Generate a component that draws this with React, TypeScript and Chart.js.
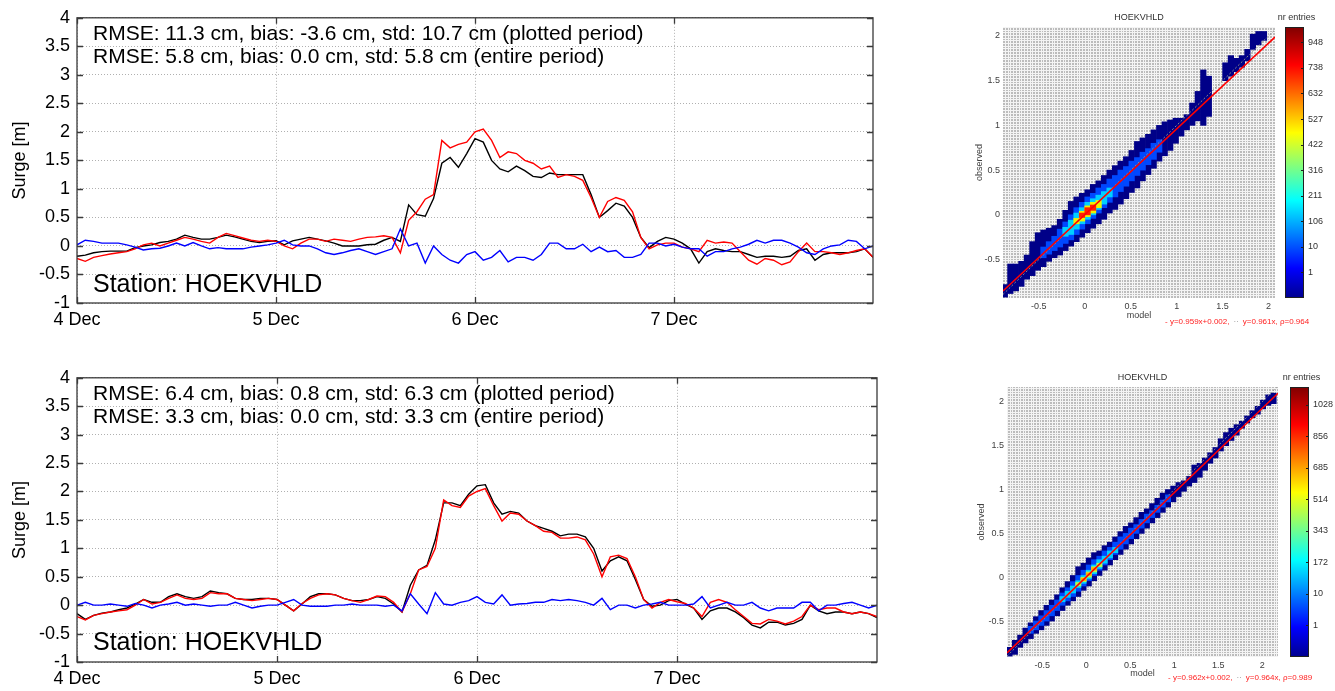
import React, { useEffect, useRef } from 'react';
import { Chart, registerables } from 'chart.js';

Chart.register(...registerables);

const FONT = "'Liberation Sans', Arial, Helvetica, sans-serif";

// ---------- time series (hourly, hours after 4 Dec 00:00) ----------
const hours: number[] = Array.from({ length: 97 }, (_, i) => i);
const dayTicks = [0, 24, 48, 72];
const dayLabels = ['4 Dec', '5 Dec', '6 Dec', '7 Dec'];
const surgeTicks = [-1, -0.5, 0, 0.5, 1, 1.5, 2, 2.5, 3, 3.5, 4];
const surgeLabels = ['-1', '-0.5', '0', '0.5', '1', '1.5', '2', '2.5', '3', '3.5', '4'];

const topObserved = [
  -0.22, -0.27, -0.2, -0.17, -0.14, -0.12, -0.1, -0.05, 0.02, 0.05,
  0.0, 0.05, 0.1, 0.15, 0.12, 0.08, 0.05, 0.15, 0.22, 0.18,
  0.14, 0.1, 0.08, 0.1, 0.08, 0.0, -0.05, 0.05, 0.12, 0.12,
  0.08, 0.12, 0.1, 0.08, 0.12, 0.15, 0.16, 0.18, 0.15, -0.12,
  0.45, 0.6, 0.82, 0.9, 1.85, 1.72, 1.78, 1.82, 2.0, 2.05,
  1.85, 1.55, 1.65, 1.62, 1.5, 1.45, 1.35, 1.4, 1.2, 1.25,
  1.22, 1.15, 0.85, 0.5, 0.78, 0.85, 0.8, 0.6, 0.15, -0.05,
  0.02, 0.05, 0.05, -0.02, -0.05, -0.1, 0.1, 0.05, 0.07, 0.05,
  -0.1, -0.25, -0.32, -0.22, -0.25, -0.33, -0.28, -0.1, 0.05, -0.1,
  -0.1, -0.12, -0.15, -0.12, -0.08, -0.05, -0.2,
];
const topModel = [
  -0.18, -0.16, -0.12, -0.1, -0.09, -0.09, -0.09, -0.03, 0.0, 0.02,
  0.06, 0.08, 0.12, 0.19, 0.15, 0.12, 0.12, 0.15, 0.19, 0.16,
  0.12, 0.08, 0.06, 0.08, 0.09, 0.02, 0.09, 0.12, 0.15, 0.12,
  0.09, 0.05, 0.0, 0.0, 0.0, 0.02, 0.03, 0.1, 0.15, 0.08,
  0.72, 0.55, 0.52, 0.83, 1.45, 1.55, 1.38, 1.62, 1.88, 1.82,
  1.5, 1.35, 1.3, 1.4, 1.32, 1.22, 1.2, 1.28, 1.25, 1.25,
  1.25, 1.25, 0.9, 0.5, 0.62, 0.75, 0.7, 0.5, 0.15, -0.03,
  0.08, 0.15, 0.12, 0.05, -0.05, -0.3, -0.1, -0.05, -0.08, -0.1,
  -0.1, -0.15, -0.2, -0.18, -0.18, -0.2, -0.18, -0.08, -0.05, -0.25,
  -0.15, -0.12, -0.12, -0.12, -0.1, -0.05, -0.2,
];
const topDiff = [
  0.02, 0.1, 0.08, 0.05, 0.05, 0.05, 0.02, -0.02, -0.07, -0.05,
  -0.04, 0.0, 0.05, 0.0, 0.06, 0.0, -0.05, -0.03, -0.05, -0.05,
  -0.05, -0.02, 0.0, 0.02, 0.05, 0.1, 0.02, 0.0, 0.0, -0.05,
  -0.12, -0.15, -0.12, -0.08, -0.05, -0.1, -0.15, -0.1, -0.05, 0.3,
  0.0, 0.05, -0.3, 0.0, -0.15, -0.25, -0.3, -0.15, -0.1, -0.25,
  -0.2, -0.08, -0.28, -0.2, -0.2, -0.25, -0.15, 0.05, 0.05, -0.05,
  -0.05, 0.03, -0.1, -0.02, -0.1, -0.08, -0.2, -0.2, -0.15, 0.05,
  0.05, 0.0, 0.03, -0.02, -0.05, -0.05, -0.18, -0.1, -0.1, -0.05,
  -0.02, 0.03, 0.1, 0.05, 0.1, 0.1, 0.05, -0.02, -0.12, -0.15,
  -0.05, 0.0, 0.02, 0.1, 0.08, -0.05, 0.0,
];
const botObserved = [
  -0.2, -0.26, -0.18, -0.15, -0.12, -0.1, -0.08, 0.0, 0.1, 0.02,
  0.05, 0.12, 0.18, 0.12, 0.1, 0.12, 0.22, 0.2, 0.2, 0.12,
  0.1, 0.08, 0.1, 0.12, 0.1, 0.0, -0.1, 0.03, 0.12, 0.18,
  0.2, 0.18, 0.12, 0.08, 0.05, 0.1, 0.16, 0.15, 0.05, -0.12,
  0.2, 0.62, 0.68, 1.0, 1.85, 1.75, 1.72, 1.92, 2.0, 2.05,
  1.75, 1.48, 1.62, 1.6, 1.48, 1.4, 1.3, 1.28, 1.18, 1.18,
  1.2, 1.15, 0.9, 0.5, 0.85, 0.88, 0.82, 0.5, 0.1, -0.05,
  0.05, 0.1, 0.06, 0.03, -0.05, -0.2, 0.05, 0.1, 0.05, -0.08,
  -0.2, -0.32, -0.33, -0.25, -0.28, -0.33, -0.28, -0.2, 0.0, -0.08,
  -0.05, -0.05, -0.12, -0.15, -0.12, -0.15, -0.2,
];
const botModel = [
  -0.15, -0.25, -0.18, -0.14, -0.12, -0.08, -0.05, 0.02, 0.1, 0.05,
  0.05, 0.15, 0.2, 0.15, 0.12, 0.15, 0.25, 0.22, 0.2, 0.12,
  0.1, 0.1, 0.12, 0.12, 0.1, 0.0, -0.1, 0.02, 0.15, 0.2,
  0.2, 0.18, 0.12, 0.08, 0.08, 0.1, 0.15, 0.12, 0.02, -0.12,
  0.35, 0.62, 0.7, 1.15, 1.8, 1.8, 1.75, 1.95, 2.1, 2.12,
  1.8, 1.6, 1.65, 1.62, 1.48, 1.4, 1.35, 1.3, 1.22, 1.25,
  1.25, 1.2, 1.0, 0.6, 0.78, 0.85, 0.78, 0.45, 0.1, -0.02,
  0.0, 0.08, 0.1, 0.02, -0.05, -0.25, -0.1, -0.05, -0.05, -0.12,
  -0.22, -0.35, -0.4, -0.3, -0.3, -0.35, -0.32, -0.25, 0.0, -0.1,
  -0.15, -0.12, -0.12, -0.15, -0.12, -0.15, -0.22,
];
const botDiff = [
  0.0, 0.05, 0.0, 0.0, 0.02, 0.0, -0.02, 0.03, 0.0, -0.05,
  0.0, 0.02, 0.05, 0.0, 0.02, 0.0, -0.02, 0.0, 0.0, 0.05,
  0.0, -0.05, -0.02, 0.0, 0.0, 0.05, 0.1, 0.0, -0.02, -0.02,
  -0.02, 0.0, 0.0, 0.02, 0.0, 0.0, 0.0, -0.02, 0.0, -0.1,
  0.2, 0.02, -0.15, 0.22, 0.02, 0.0, 0.05, 0.08, 0.15, 0.05,
  0.02, 0.18, 0.0, 0.02, 0.03, 0.05, 0.05, 0.1, 0.08, 0.1,
  0.08, 0.05, 0.0, 0.12, -0.08, 0.0, 0.0, -0.05, 0.0, 0.02,
  0.05, 0.0, 0.0, 0.0, 0.02, 0.15, -0.05, 0.0, 0.05, 0.0,
  0.0, 0.05, -0.05, -0.1, -0.05, -0.05, -0.05, 0.05, 0.05, -0.1,
  0.0, 0.0, 0.03, 0.05, 0.0, -0.05, 0.0,
];

const topStats = [
  'RMSE: 11.3 cm, bias: -3.6 cm, std: 10.7 cm (plotted period)',
  'RMSE: 5.8 cm, bias: 0.0 cm, std: 5.8 cm (entire period)',
];
const botStats = [
  'RMSE: 6.4 cm, bias: 0.8 cm, std: 6.3 cm (plotted period)',
  'RMSE: 3.3 cm, bias: 0.0 cm, std: 3.3 cm (entire period)',
];
const stationLabel = 'Station: HOEKVHLD';

// ---------- density (2D histogram) panels ----------
const densityTicks = [-0.5, 0, 0.5, 1, 1.5, 2];
const densityLabels = ['-0.5', '0', '0.5', '1', '1.5', '2'];
const densityTitle = 'HOEKVHLD';

// top panel bands (column centre = model, [lo, hi] = observed range)
const topB1X = [-0.87, -0.81, -0.75, -0.69, -0.63, -0.57, -0.51, -0.45, -0.39, -0.33, -0.27, -0.21, -0.15, -0.09, -0.03, 0.03, 0.09, 0.15, 0.21, 0.27, 0.33, 0.39, 0.45, 0.51, 0.57, 0.63, 0.69, 0.75, 0.81, 0.87, 0.93, 0.99, 1.05, 1.11, 1.17, 1.23, 1.29, 1.35, 1.53, 1.59, 1.65, 1.71, 1.77, 1.83, 1.89, 1.95];
const topB1Lo = [-0.92, -0.88, -0.85, -0.8, -0.72, -0.68, -0.62, -0.58, -0.52, -0.48, -0.45, -0.4, -0.35, -0.3, -0.25, -0.2, -0.15, -0.1, -0.05, 0.02, 0.06, 0.12, 0.18, 0.25, 0.3, 0.38, 0.45, 0.52, 0.6, 0.66, 0.72, 0.8, 0.88, 0.95, 1.0, 1.05, 1.0, 1.1, 1.5, 1.55, 1.6, 1.65, 1.72, 1.85, 1.9, 1.95];
const topB1Hi = [-0.78, -0.55, -0.55, -0.52, -0.45, -0.3, -0.2, -0.17, -0.15, -0.12, -0.05, 0.05, 0.15, 0.2, 0.24, 0.28, 0.34, 0.38, 0.44, 0.5, 0.55, 0.6, 0.65, 0.72, 0.82, 0.86, 0.9, 0.95, 1.0, 1.04, 1.06, 1.08, 1.08, 1.12, 1.25, 1.38, 1.62, 1.55, 1.7, 1.78, 1.75, 1.78, 1.85, 2.02, 2.05, 2.05];
const topB2X = [-0.45, -0.39, -0.33, -0.27, -0.21, -0.15, -0.09, -0.03, 0.03, 0.09, 0.15, 0.21, 0.27, 0.33, 0.39, 0.45, 0.51, 0.57, 0.63, 0.69, 0.75, 0.81];
const topB2Lo = [-0.48, -0.44, -0.4, -0.36, -0.32, -0.28, -0.22, -0.16, -0.1, -0.04, 0.02, 0.08, 0.14, 0.2, 0.26, 0.32, 0.38, 0.44, 0.5, 0.56, 0.62, 0.7];
const topB2Hi = [-0.36, -0.3, -0.24, -0.16, -0.08, 0.0, 0.08, 0.14, 0.2, 0.24, 0.3, 0.34, 0.4, 0.44, 0.5, 0.54, 0.6, 0.64, 0.7, 0.74, 0.8, 0.84];
const topB3X = [-0.21, -0.15, -0.09, -0.03, 0.03, 0.09, 0.15, 0.21, 0.27];
const topB3Lo = [-0.24, -0.22, -0.16, -0.1, -0.05, 0.0, 0.06, 0.12, 0.2];
const topB3Hi = [-0.14, -0.06, 0.02, 0.08, 0.14, 0.18, 0.22, 0.26, 0.3];
const topB4X = [-0.09, -0.03, 0.03, 0.09, 0.15];
const topB4Lo = [-0.1, -0.07, -0.02, 0.02, 0.08];
const topB4Hi = [-0.04, 0.04, 0.1, 0.14, 0.16];
const topB5X = [-0.03, 0.03, 0.09];
const topB5Lo = [-0.03, 0.0, 0.05];
const topB5Hi = [0.02, 0.08, 0.11];

// bottom panel bands
const botB1X = [-0.87, -0.81, -0.75, -0.69, -0.63, -0.57, -0.51, -0.45, -0.39, -0.33, -0.27, -0.21, -0.15, -0.09, -0.03, 0.03, 0.09, 0.15, 0.21, 0.27, 0.33, 0.39, 0.45, 0.51, 0.57, 0.63, 0.69, 0.75, 0.81, 0.87, 0.93, 0.99, 1.05, 1.11, 1.17, 1.23, 1.29, 1.35, 1.41, 1.47, 1.53, 1.59, 1.65, 1.71, 1.77, 1.83, 1.89, 1.95, 2.01, 2.07, 2.13];
const botB1Lo = [-0.9, -0.88, -0.8, -0.75, -0.7, -0.64, -0.6, -0.55, -0.5, -0.44, -0.38, -0.32, -0.27, -0.22, -0.15, -0.1, -0.04, 0.02, 0.08, 0.14, 0.2, 0.26, 0.32, 0.38, 0.44, 0.5, 0.56, 0.62, 0.68, 0.74, 0.8, 0.86, 0.92, 0.98, 1.04, 1.08, 1.14, 1.22, 1.3, 1.36, 1.44, 1.5, 1.56, 1.62, 1.7, 1.76, 1.82, 1.86, 1.92, 1.96, 1.98];
const botB1Hi = [-0.8, -0.72, -0.66, -0.58, -0.52, -0.45, -0.38, -0.32, -0.26, -0.2, -0.12, -0.05, 0.02, 0.12, 0.16, 0.22, 0.28, 0.3, 0.36, 0.4, 0.46, 0.52, 0.58, 0.62, 0.68, 0.74, 0.78, 0.84, 0.9, 0.96, 1.0, 1.04, 1.08, 1.1, 1.15, 1.28, 1.3, 1.36, 1.42, 1.48, 1.58, 1.65, 1.7, 1.74, 1.78, 1.84, 1.9, 1.95, 2.02, 2.08, 2.1];
const botB2X = [-0.63, -0.57, -0.51, -0.45, -0.39, -0.33, -0.27, -0.21, -0.15, -0.09, -0.03, 0.03, 0.09, 0.15, 0.21, 0.27, 0.33, 0.39, 0.45, 0.51, 0.57, 0.63, 0.69, 0.75, 0.81, 0.87, 0.93];
const botB2Lo = [-0.64, -0.6, -0.55, -0.5, -0.44, -0.38, -0.32, -0.27, -0.22, -0.16, -0.1, -0.04, 0.02, 0.08, 0.14, 0.2, 0.26, 0.32, 0.38, 0.44, 0.5, 0.56, 0.62, 0.68, 0.74, 0.8, 0.86];
const botB2Hi = [-0.56, -0.5, -0.44, -0.38, -0.32, -0.26, -0.18, -0.12, -0.05, 0.02, 0.08, 0.14, 0.2, 0.24, 0.3, 0.34, 0.4, 0.46, 0.5, 0.56, 0.6, 0.66, 0.72, 0.76, 0.82, 0.88, 0.94];
const botB3X = [-0.27, -0.21, -0.15, -0.09, -0.03, 0.03, 0.09, 0.15, 0.21, 0.27, 0.33];
const botB3Lo = [-0.28, -0.23, -0.18, -0.12, -0.07, -0.02, 0.04, 0.1, 0.16, 0.22, 0.28];
const botB3Hi = [-0.22, -0.16, -0.1, -0.04, 0.02, 0.08, 0.14, 0.2, 0.24, 0.3, 0.34];
const botB4X = [-0.09, -0.03, 0.03, 0.09, 0.15];
const botB4Lo = [-0.1, -0.05, 0.0, 0.06, 0.12];
const botB4Hi = [-0.06, 0.0, 0.06, 0.12, 0.16];
const botB5X = [-0.03, 0.03, 0.09];
const botB5Lo = [-0.04, 0.02, 0.08];
const botB5Hi = [-0.01, 0.05, 0.11];

// regression / reference lines
const topFitX = [-0.89, 2.07];
const topFitY = [-0.852, 1.987];
const topOneX = [-0.89, 2.07];
const topOneY = [-0.89, 2.07];
const botFitX = [-0.9, 2.18];
const botFitY = [-0.864, 2.099];
const botOneX = [-0.9, 2.18];
const botOneY = [-0.9, 2.18];

const topFitText = ['- y=0.959x+0.002,', '\u00B7\u00B7', 'y=0.961x, \u03C1=0.964'];
const botFitText = ['- y=0.962x+0.002,', '\u00B7\u00B7', 'y=0.964x, \u03C1=0.989'];

// colour bars
const topCbTicks = [1, 2, 3, 4, 5, 6, 7, 8, 9, 10];
const topCbLabels = ['1', '10', '106', '211', '316', '422', '527', '632', '738', '948'];
const botCbTicks = [1, 2, 3, 4, 5, 6, 7, 8];
const botCbLabels = ['1', '10', '172', '343', '514', '685', '856', '1028'];
const jetStops = [0, 0.11, 0.36, 0.61, 0.86, 1];
const jetColors = ['#00008f', '#0000ff', '#00ffff', '#ffff00', '#ff0000', '#800000'];

// ---------------------------------------------------------------
function surgeChart(canvas: HTMLCanvasElement, o: any) {
  const pts = (arr: number[]) => hours.map((h, i) => ({ x: h, y: arr[i] }));
  const box = {
    id: 'boxAndText',
    afterDraw(chart: any) {
      const { ctx, chartArea: a, scales } = chart;
      ctx.save();
      ctx.strokeStyle = '#3a3a3a';
      ctx.lineWidth = 1.3;
      ctx.setLineDash([]);
      ctx.strokeRect(a.left, a.top, a.right - a.left, a.bottom - a.top);
      ctx.beginPath();
      surgeTicks.forEach((v) => {
        const y = Math.round(scales.y.getPixelForValue(v)) + 0.5;
        ctx.moveTo(a.left, y); ctx.lineTo(a.left + 6, y);
        ctx.moveTo(a.right, y); ctx.lineTo(a.right - 6, y);
      });
      dayTicks.forEach((v) => {
        const x = Math.round(scales.x.getPixelForValue(v)) + 0.5;
        ctx.moveTo(x, a.bottom); ctx.lineTo(x, a.bottom - 6);
        ctx.moveTo(x, a.top); ctx.lineTo(x, a.top + 6);
      });
      ctx.stroke();
      ctx.fillStyle = '#000';
      ctx.textAlign = 'left';
      ctx.textBaseline = 'alphabetic';
      ctx.font = `21px ${FONT}`;
      o.stats.forEach((t: string, i: number) => ctx.fillText(t, a.left + 16, o.statY[i]));
      ctx.font = `25px ${FONT}`;
      ctx.fillText(stationLabel, a.left + 16, o.stationY);
      ctx.restore();
    },
  };
  const line = (data: number[], color: string) => ({
    data: pts(data),
    borderColor: color,
    backgroundColor: color,
    borderWidth: 1.4,
    pointRadius: 0,
    tension: 0,
    fill: false,
  });
  return new Chart(canvas, {
    type: 'line',
    data: { datasets: [line(o.diff, '#0000ff'), line(o.obs, '#ff0000'), line(o.mod, '#000000')] },
    options: {
      animation: false,
      responsive: false,
      maintainAspectRatio: false,
      layout: { padding: { top: o.padTop, right: o.padRight, left: 0, bottom: 0 } },
      plugins: { legend: { display: false }, tooltip: { enabled: false } },
      scales: {
        x: {
          type: 'linear',
          min: 0,
          max: 96,
          afterBuildTicks: (s: any) => { s.ticks = dayTicks.map((v) => ({ value: v })); },
          ticks: {
            callback: (v: any) => dayLabels[dayTicks.indexOf(v)] ?? '',
            color: '#000',
            font: { family: FONT, size: 18 },
            padding: 6,
            maxRotation: 0,
            autoSkip: false,
          },
          grid: { color: '#b0b0b0', lineWidth: 1, drawTicks: false },
          border: { display: false, dash: [1, 2] },
          afterFit: (s: any) => { s.height = o.xAxisH; },
        },
        y: {
          type: 'linear',
          min: -1,
          max: 4,
          afterBuildTicks: (s: any) => { s.ticks = surgeTicks.map((v) => ({ value: v })); },
          ticks: {
            callback: (v: any) => surgeLabels[surgeTicks.indexOf(v)] ?? '',
            color: '#000',
            font: { family: FONT, size: 18 },
            padding: 7,
          },
          grid: { color: '#b0b0b0', lineWidth: 1, drawTicks: false },
          border: { display: false, dash: [1, 2] },
          title: {
            display: true,
            text: 'Surge [m]',
            color: '#000',
            font: { family: FONT, size: 18 },
            padding: { top: 9, bottom: 0 },
          },
          afterFit: (s: any) => { s.width = 77; },
        },
      },
    },
    plugins: [box],
  } as any);
}

function densityChart(canvas: HTMLCanvasElement, o: any) {
  const datasets: any[] = o.bands.map((b: any, i: number) => ({
    type: 'bar',
    data: b.x.map((x: number, k: number) => ({ x, y: [b.lo[k], b.hi[k]] })),
    backgroundColor: b.color,
    borderWidth: 0,
    barPercentage: 1,
    categoryPercentage: 1,
    grouped: false,
    order: 10 - i,
  }));
  datasets.push({
    type: 'line',
    data: o.oneX.map((x: number, k: number) => ({ x, y: o.oneY[k] })),
    borderColor: '#8a8a8a',
    borderWidth: 1,
    borderDash: [2, 2],
    pointRadius: 0,
    order: 1,
  });
  datasets.push({
    type: 'line',
    data: o.fitX.map((x: number, k: number) => ({ x, y: o.fitY[k] })),
    borderColor: '#ff0000',
    borderWidth: 1.6,
    pointRadius: 0,
    order: 0,
  });
  const bg = {
    id: 'cells',
    beforeDatasetsDraw(chart: any) {
      const { ctx, chartArea: a, scales } = chart;
      ctx.save();
      ctx.fillStyle = '#bcbcbc';
      ctx.fillRect(a.left, a.top, a.right - a.left, a.bottom - a.top);
      ctx.strokeStyle = '#f4f4f4';
      ctx.lineWidth = 1;
      ctx.beginPath();
      for (let v = o.binStart; v <= scales.x.max + 1e-9; v += 0.03) {
        const px = Math.round(scales.x.getPixelForValue(v)) + 0.5;
        if (px > a.left && px < a.right) { ctx.moveTo(px, a.top); ctx.lineTo(px, a.bottom); }
      }
      for (let v = o.binStart; v <= scales.y.max + 1e-9; v += 0.03) {
        const py = Math.round(scales.y.getPixelForValue(v)) + 0.5;
        if (py > a.top && py < a.bottom) { ctx.moveTo(a.left, py); ctx.lineTo(a.right, py); }
      }
      ctx.stroke();
      ctx.restore();
    },
    afterDraw(chart: any) {
      const { ctx, chartArea: a } = chart;
      ctx.save();
      ctx.fillStyle = '#303030';
      ctx.font = `9px ${FONT}`;
      ctx.textAlign = 'center';
      ctx.textBaseline = 'middle';
      ctx.fillText(densityTitle, (a.left + a.right) / 2, o.titleY);
      ctx.textAlign = 'left';
      ctx.font = `8px ${FONT}`;
      let x = o.fitTextX;
      o.fitText.forEach((t: string, i: number) => {
        ctx.fillStyle = i === 1 ? '#a0a0a0' : '#ff2020';
        ctx.fillText(t, x, o.fitTextY);
        x += ctx.measureText(t).width + 4;
      });
      ctx.restore();
    },
  };
  const tickFont = { family: FONT, size: 9 };
  return new Chart(canvas, {
    type: 'bar',
    data: { datasets },
    options: {
      animation: false,
      responsive: false,
      maintainAspectRatio: false,
      layout: { padding: { top: o.padTop, right: o.padRight, left: 0, bottom: 0 } },
      plugins: { legend: { display: false }, tooltip: { enabled: false } },
      scales: {
        x: {
          type: 'linear',
          min: o.xMin,
          max: o.xMax,
          offset: false,
          afterBuildTicks: (s: any) => { s.ticks = densityTicks.map((v) => ({ value: v })); },
          ticks: {
            callback: (v: any) => densityLabels[densityTicks.indexOf(v)] ?? '',
            color: '#404040',
            font: tickFont,
            padding: 3,
            maxRotation: 0,
            autoSkip: false,
          },
          grid: { display: false, drawTicks: false },
          border: { display: false },
          title: { display: true, text: 'model', color: '#404040', font: tickFont, padding: { top: 0, bottom: o.xTitlePad } },
          afterFit: (s: any) => { s.height = o.xAxisH; },
        },
        y: {
          type: 'linear',
          min: o.yMin,
          max: o.yMax,
          afterBuildTicks: (s: any) => { s.ticks = densityTicks.map((v) => ({ value: v })); },
          ticks: {
            callback: (v: any) => densityLabels[densityTicks.indexOf(v)] ?? '',
            color: '#404040',
            font: tickFont,
            padding: 3,
          },
          grid: { display: false, drawTicks: false },
          border: { display: false },
          title: { display: true, text: 'observed', color: '#404040', font: tickFont, padding: { top: o.yTitlePad, bottom: 0 } },
          afterFit: (s: any) => { s.width = o.yAxisW; },
        },
      },
    },
    plugins: [bg],
  } as any);
}

function jetGradient(chart: any) {
  const a = chart.chartArea;
  if (!a) return jetColors[0];
  const g = chart.ctx.createLinearGradient(0, a.bottom, 0, a.top);
  jetStops.forEach((s, i) => g.addColorStop(s, jetColors[i]));
  return g;
}

function colorbarChart(canvas: HTMLCanvasElement, o: any) {
  const frame = {
    id: 'cbFrame',
    afterDraw(chart: any) {
      const { ctx, chartArea: a, scales } = chart;
      ctx.save();
      ctx.strokeStyle = '#202020';
      ctx.lineWidth = 1;
      ctx.strokeRect(a.left + 0.5, a.top + 0.5, a.right - a.left - 1, a.bottom - a.top - 1);
      ctx.beginPath();
      o.ticks.forEach((v: number) => {
        const y = Math.round(scales.y.getPixelForValue(v)) + 0.5;
        ctx.moveTo(a.right, y); ctx.lineTo(a.right - 3, y);
      });
      ctx.stroke();
      ctx.fillStyle = '#303030';
      ctx.font = `9px ${FONT}`;
      ctx.textAlign = 'center';
      ctx.textBaseline = 'middle';
      ctx.fillText('nr entries', (a.left + a.right) / 2 + 2, o.titleY);
      ctx.restore();
    },
  };
  return new Chart(canvas, {
    type: 'bar',
    data: {
      labels: ['nr entries'],
      datasets: [{
        data: [[0, o.top]],
        backgroundColor: (c: any) => jetGradient(c.chart),
        borderWidth: 0,
        barPercentage: 1,
        categoryPercentage: 1,
      }],
    },
    options: {
      animation: false,
      responsive: false,
      maintainAspectRatio: false,
      layout: { padding: { top: o.padTop, left: o.padLeft, bottom: o.padBottom, right: 0 } },
      plugins: { legend: { display: false }, tooltip: { enabled: false } },
      scales: {
        x: { display: false },
        y: {
          position: 'right',
          min: 0,
          max: o.top,
          afterBuildTicks: (s: any) => { s.ticks = o.ticks.map((v: number) => ({ value: v })); },
          ticks: {
            callback: (v: any) => o.labels[o.ticks.indexOf(v)] ?? '',
            color: '#303030',
            font: { family: FONT, size: 9 },
            padding: 4,
          },
          grid: { display: false, drawTicks: false },
          border: { display: false },
          afterFit: (s: any) => { s.width = o.axisW; },
        },
      },
    },
    plugins: [frame],
  } as any);
}

export default function App() {
  const c1 = useRef<HTMLCanvasElement>(null);
  const c2 = useRef<HTMLCanvasElement>(null);
  const c3 = useRef<HTMLCanvasElement>(null);
  const c4 = useRef<HTMLCanvasElement>(null);
  const c5 = useRef<HTMLCanvasElement>(null);
  const c6 = useRef<HTMLCanvasElement>(null);

  useEffect(() => {
    const charts: Chart[] = [];
    charts.push(surgeChart(c1.current!, {
      obs: topObserved, mod: topModel, diff: topDiff, stats: topStats,
      padTop: 16, padRight: 17, xAxisH: 42, statY: [40, 63], stationY: 292,
    }));
    charts.push(surgeChart(c2.current!, {
      obs: botObserved, mod: botModel, diff: botDiff, stats: botStats,
      padTop: 15, padRight: 13, xAxisH: 29, statY: [40, 63], stationY: 290,
    }));
    charts.push(densityChart(c3.current!, {
      bands: [
        { x: topB1X, lo: topB1Lo, hi: topB1Hi, color: '#000088' },
        { x: topB2X, lo: topB2Lo, hi: topB2Hi, color: '#0048ff' },
        { x: topB3X, lo: topB3Lo, hi: topB3Hi, color: '#00d0ff' },
        { x: topB4X, lo: topB4Lo, hi: topB4Hi, color: '#f0f000' },
        { x: topB5X, lo: topB5Lo, hi: topB5Hi, color: '#ff2000' },
      ],
      fitX: topFitX, fitY: topFitY, oneX: topOneX, oneY: topOneY,
      xMin: -0.89, xMax: 2.07, yMin: -0.93, yMax: 2.1, binStart: -0.9,
      padTop: 27, padRight: 60, xAxisH: 42, yAxisW: 43, xTitlePad: 19, yTitlePad: 14,
      titleY: 18, fitText: topFitText, fitTextX: 205, fitTextY: 322,
    }));
    charts.push(densityChart(c4.current!, {
      bands: [
        { x: botB1X, lo: botB1Lo, hi: botB1Hi, color: '#000088' },
        { x: botB2X, lo: botB2Lo, hi: botB2Hi, color: '#0048ff' },
        { x: botB3X, lo: botB3Lo, hi: botB3Hi, color: '#00d0ff' },
        { x: botB4X, lo: botB4Lo, hi: botB4Hi, color: '#b0ff50' },
        { x: botB5X, lo: botB5Lo, hi: botB5Hi, color: '#ffb000' },
      ],
      fitX: botFitX, fitY: botFitY, oneX: botOneX, oneY: botOneY,
      xMin: -0.9, xMax: 2.18, yMin: -0.91, yMax: 2.17, binStart: -0.9,
      padTop: 32, padRight: 57, xAxisH: 34, yAxisW: 47, xTitlePad: 12, yTitlePad: 16,
      titleY: 23, fitText: botFitText, fitTextX: 208, fitTextY: 323,
    }));
    charts.push(colorbarChart(c5.current!, {
      top: 10.6, ticks: topCbTicks, labels: topCbLabels,
      padTop: 27, padLeft: 20, padBottom: 42, axisW: 31, titleY: 18,
    }));
    charts.push(colorbarChart(c6.current!, {
      top: 8.57, ticks: botCbTicks, labels: botCbLabels,
      padTop: 32, padLeft: 25, padBottom: 34, axisW: 26, titleY: 23,
    }));
    return () => charts.forEach((c) => c.destroy());
  }, []);

  const abs = (left: number, top: number) => ({ position: 'absolute' as const, left, top });
  return (
    <div style={{ position: 'absolute', left: 0, top: 0, width: 1335, height: 691, background: '#fff', overflow: 'hidden' }}>
      <canvas ref={c1} width={890} height={345} style={abs(0, 0)} />
      <canvas ref={c2} width={890} height={331} style={abs(0, 360)} />
      <canvas ref={c3} width={375} height={340} style={abs(960, 0)} />
      <canvas ref={c4} width={375} height={336} style={abs(960, 355)} />
      <canvas ref={c5} width={70} height={340} style={abs(1265, 0)} />
      <canvas ref={c6} width={70} height={336} style={abs(1265, 355)} />
    </div>
  );
}
